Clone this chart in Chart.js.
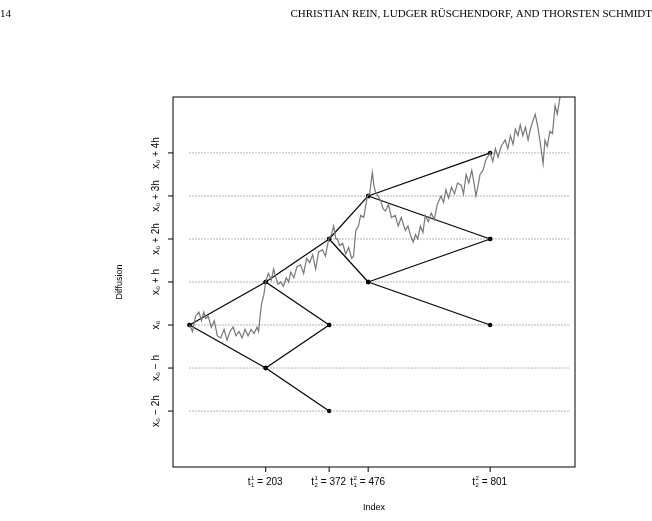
<!DOCTYPE html>
<html>
<head>
<meta charset="utf-8">
<script src="https://cdn.jsdelivr.net/npm/chart.js@4/dist/chart.umd.min.js"></script>
<style>
  body { margin: 0; background: #fff; }
  #wrap { position: relative; width: 652px; height: 521px; }
</style>
</head>
<body>
<div id="wrap"><canvas id="chart" width="652" height="521"></canvas></div>
<script>
// diffusion path: index and level (in units of h above x0)
const pathIndex = [0, 8, 16, 25, 32, 38, 43, 50, 58, 66, 74, 83, 92, 100, 108, 116, 124, 132, 140, 148, 156, 164, 172, 180, 184, 188, 192, 198, 203, 210, 218, 224, 230, 236, 243, 250, 258, 264, 270, 278, 286, 296, 304, 312, 320, 328, 336, 344, 354, 362, 371, 378, 384, 390, 394, 400, 408, 416, 424, 432, 437, 443, 450, 456, 464, 474, 480, 487, 491, 495, 502, 509, 516, 522, 530, 538, 548, 556, 564, 575, 582, 590, 596, 602, 608, 615, 622, 628, 636, 644, 652, 660, 670, 677, 683, 690, 698, 706, 714, 724, 730, 737, 744, 752, 758, 763, 768, 774, 782, 790, 801, 808, 815, 822, 830, 841, 848, 855, 862, 868, 875, 881, 888, 895, 902, 908, 915, 921, 928, 935, 942, 947, 953, 960, 967, 974, 980, 987];
const pathLevel = [0, -0.15, 0.2, 0.3, 0.1, 0.3, 0.15, 0.2, -0.05, 0.1, -0.25, -0.3, -0.1, -0.35, -0.15, -0.05, -0.25, -0.15, -0.3, -0.1, -0.25, -0.1, -0.2, -0.05, -0.15, 0.2, 0.5, 0.7, 1.0, 1.2, 1.05, 1.3, 1.1, 0.95, 1.0, 0.9, 1.1, 1.0, 1.23, 1.1, 1.35, 1.4, 1.2, 1.55, 1.45, 1.63, 1.3, 1.7, 1.75, 1.6, 2.0, 2.1, 2.3, 2.0, 2.0, 1.85, 1.9, 1.65, 1.8, 1.55, 1.6, 2.2, 2.3, 2.55, 2.5, 3.0, 3.05, 3.55, 3.25, 3.1, 3.0, 2.9, 2.7, 2.65, 2.8, 2.5, 2.55, 2.3, 2.5, 2.2, 2.3, 2.05, 1.93, 2.1, 2.0, 2.3, 2.15, 2.55, 2.4, 2.6, 2.45, 2.8, 3.0, 2.85, 3.15, 2.95, 3.2, 3.05, 3.3, 3.25, 3.05, 3.5, 3.3, 3.6, 3.3, 3.0, 3.2, 3.5, 3.6, 3.85, 4.0, 3.8, 4.1, 3.9, 4.15, 4.3, 4.1, 4.4, 4.2, 4.55, 4.4, 4.65, 4.4, 4.6, 4.3, 4.55, 4.75, 4.9, 4.6, 4.2, 3.75, 4.3, 4.15, 4.5, 4.45, 5.1, 4.9, 5.3];

// binomial tree edges: [fromIndex, fromLevel, toIndex, toLevel]
const treeEdges = [
  [0, 0, 203, 1], [0, 0, 203, -1],
  [203, 1, 372, 2], [203, 1, 372, 0],
  [203, -1, 372, 0], [203, -1, 372, -2],
  [372, 2, 476, 3], [372, 2, 476, 1],
  [476, 3, 801, 4], [476, 3, 801, 2],
  [476, 1, 801, 2], [476, 1, 801, 0]
];

const gridLevels = [-2, -1, 0, 1, 2, 3, 4];
const yTickLabels = ["x\u2080 \u2212 2h", "x\u2080 \u2212 h", "x\u2080", "x\u2080 + h", "x\u2080 + 2h", "x\u2080 + 3h", "x\u2080 + 4h"];
const xTicks = [203, 372, 476, 801];
const xTickSup = ["1", "1", "2", "2"];
const xTickSub = ["1", "2", "1", "2"];

const datasets = [];
for (const lv of gridLevels) {
  datasets.push({
    data: [{ x: 0, y: lv }, { x: 1010, y: lv }],
    borderColor: "#444", borderWidth: 0.8, borderDash: [1, 2], pointRadius: 0
  });
}
datasets.push({
  data: pathIndex.map((x, i) => ({ x, y: pathLevel[i] })),
  borderColor: "#777", borderWidth: 1.2, pointRadius: 0
});
for (const e of treeEdges) {
  datasets.push({
    data: [{ x: e[0], y: e[1] }, { x: e[2], y: e[3] }],
    borderColor: "#000", borderWidth: 1.2, pointRadius: 2.2,
    pointBackgroundColor: "#000", pointBorderWidth: 0
  });
}

const frame = {
  id: "frame",
  afterDraw(chart) {
    const { ctx, chartArea: a, scales: { x, y } } = chart;
    ctx.save();
    ctx.strokeStyle = "#000";
    ctx.lineWidth = 1;
    ctx.strokeRect(a.left, a.top, a.right - a.left, a.bottom - a.top);
    ctx.fillStyle = "#000";
    ctx.textBaseline = "middle";
    xTicks.forEach((v, i) => {
      const px = x.getPixelForValue(v);
      ctx.beginPath(); ctx.moveTo(px, a.bottom); ctx.lineTo(px, a.bottom + 5); ctx.stroke();
      const rest = " = " + v;
      ctx.font = "10px 'Liberation Sans', Arial";
      const wt = ctx.measureText("t").width, wr = ctx.measureText(rest).width;
      const total = wt + 5 + wr;
      const sx = px - total / 2;
      const ty = a.bottom + 15;
      ctx.textAlign = "left";
      ctx.fillText("t", sx, ty);
      ctx.font = "6px 'Liberation Sans', Arial";
      ctx.fillText(xTickSup[i], sx + wt + 0.5, ty - 4);
      ctx.fillText(xTickSub[i], sx + wt + 0.5, ty + 3);
      ctx.font = "10px 'Liberation Sans', Arial";
      ctx.fillText(rest, sx + wt + 4, ty);
    });
    ctx.font = "10px 'Liberation Sans', Arial";
    gridLevels.forEach((lv, i) => {
      const py = y.getPixelForValue(lv);
      ctx.beginPath(); ctx.moveTo(a.left, py); ctx.lineTo(a.left - 5, py); ctx.stroke();
      ctx.save();
      ctx.translate(a.left - 17, py);
      ctx.rotate(-Math.PI / 2);
      ctx.textAlign = "center";
      ctx.fillText(yTickLabels[i], 0, 0);
      ctx.restore();
    });
    ctx.font = "9px 'Liberation Sans', Arial";
    ctx.textAlign = "center";
    ctx.fillText("Index", (a.left + a.right) / 2, 508);
    ctx.save();
    ctx.translate(120, (a.top + a.bottom) / 2);
    ctx.rotate(-Math.PI / 2);
    ctx.fillText("Diffusion", 0, 0);
    ctx.restore();
    ctx.font = "11px 'Liberation Serif', 'DejaVu Serif', serif";
    ctx.textAlign = "left";
    ctx.fillText("14", 0, 14);
    ctx.textAlign = "right";
    ctx.fillText("CHRISTIAN REIN, LUDGER R\u00dcSCHENDORF, AND THORSTEN SCHMIDT", 652, 14);
    ctx.restore();
  }
};

new Chart(document.getElementById("chart"), {
  type: "line",
  data: { datasets },
  options: {
    responsive: false,
    animation: false,
    layout: { padding: { left: 173, top: 97, right: 77, bottom: 54 } },
    scales: {
      x: { type: "linear", min: -44, max: 1027, display: false },
      y: { type: "linear", min: -3.3, max: 5.3, display: false }
    },
    plugins: { legend: { display: false }, tooltip: { enabled: false } },
    elements: { line: { tension: 0 } }
  },
  plugins: [frame]
});
</script>
</body>
</html>
